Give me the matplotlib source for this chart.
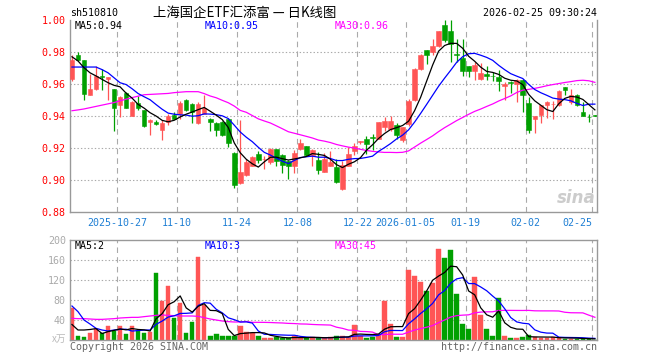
import matplotlib
matplotlib.use('Agg')
import matplotlib.pyplot as plt
import numpy as np
import pandas as pd

plt.rcParams['lines.scale_dashes'] = False
MONO = 'DejaVu Sans Mono'
CJK = ['Noto Sans CJK SC', 'DejaVu Sans']

# ---------------- data ----------------
opens = [0.9633, 0.9779, 0.9748, 0.9533, 0.9567, 0.9647, 0.9629, 0.9567, 0.9471, 0.9546,
         0.9402, 0.9480, 0.9436, 0.9360, 0.9364, 0.9310, 0.9360, 0.9408, 0.9414, 0.9502,
         0.9477, 0.9358, 0.9415, 0.9383, 0.9358, 0.9362, 0.9380, 0.9166, 0.8980, 0.9033,
         0.9090, 0.9164, 0.9131, 0.9110, 0.9194, 0.9158, 0.9120, 0.9089, 0.9194, 0.9212,
         0.9158, 0.9127, 0.9052, 0.9088, 0.9079, 0.8943, 0.9088, 0.9180, 0.9238, 0.9256,
         0.9266, 0.9258, 0.9330, 0.9320, 0.9345, 0.9248, 0.9348, 0.9498, 0.9694, 0.9812,
         0.9798, 0.9835, 0.9966, 0.9930, 0.9784, 0.9760, 0.9710, 0.9680, 0.9633, 0.9664,
         0.9652, 0.9646, 0.9585, 0.9615, 0.9600, 0.9627, 0.9482, 0.9380, 0.9404, 0.9467,
         0.9474, 0.9467, 0.9579, 0.9490, 0.9533, 0.9427, 0.9394, 0.9404]
highs = [0.9780, 0.9797, 0.9750, 0.9660, 0.9713, 0.9692, 0.9646, 0.9567, 0.9525, 0.9550,
         0.9492, 0.9527, 0.9440, 0.9380, 0.9377, 0.9373, 0.9415, 0.9427, 0.9492, 0.9505,
         0.9480, 0.9490, 0.9530, 0.9385, 0.9360, 0.9370, 0.9390, 0.9175, 0.9376, 0.9133,
         0.9152, 0.9180, 0.9150, 0.9200, 0.9196, 0.9160, 0.9122, 0.9190, 0.9256, 0.9215,
         0.9196, 0.9175, 0.9170, 0.9180, 0.9130, 0.9120, 0.9208, 0.9231, 0.9245, 0.9273,
         0.9290, 0.9362, 0.9394, 0.9402, 0.9356, 0.9333, 0.9505, 0.9698, 0.9785, 0.9815,
         0.9880, 0.9932, 0.9998, 1.0000, 0.9880, 0.9882, 0.9712, 0.9740, 0.9731, 0.9710,
         0.9677, 0.9685, 0.9613, 0.9617, 0.9631, 0.9632, 0.9520, 0.9400, 0.9468, 0.9496,
         0.9496, 0.9565, 0.9580, 0.9571, 0.9537, 0.9488, 0.9413, 0.9405]
lows = [0.9620, 0.9746, 0.9498, 0.9530, 0.9565, 0.9560, 0.9498, 0.9306, 0.9395, 0.9450,
        0.9400, 0.9440, 0.9330, 0.9280, 0.9345, 0.9252, 0.9344, 0.9380, 0.9381, 0.9430,
        0.9356, 0.9352, 0.9412, 0.9306, 0.9277, 0.9277, 0.9206, 0.8948, 0.8975, 0.9027,
        0.9085, 0.9106, 0.9068, 0.9103, 0.9085, 0.9045, 0.9006, 0.9044, 0.9190, 0.9148,
        0.9085, 0.9040, 0.9050, 0.9085, 0.8980, 0.8940, 0.9085, 0.9158, 0.9225, 0.9165,
        0.9185, 0.9255, 0.9304, 0.9304, 0.9256, 0.9240, 0.9340, 0.9495, 0.9685, 0.9725,
        0.9783, 0.9833, 0.9860, 0.9735, 0.9740, 0.9648, 0.9643, 0.9627, 0.9624, 0.9627,
        0.9619, 0.9558, 0.9502, 0.9544, 0.9490, 0.9423, 0.9292, 0.9293, 0.9356, 0.9388,
        0.9383, 0.9460, 0.9529, 0.9475, 0.9460, 0.9398, 0.9363, 0.9402]
closes = [0.9752, 0.9748, 0.9535, 0.9567, 0.9650, 0.9645, 0.9644, 0.9452, 0.9521, 0.9452,
          0.9490, 0.9448, 0.9335, 0.9377, 0.9348, 0.9356, 0.9402, 0.9383, 0.9481, 0.9435,
          0.9423, 0.9477, 0.9452, 0.9362, 0.9313, 0.9284, 0.9230, 0.8970, 0.9053, 0.9110,
          0.9144, 0.9127, 0.9134, 0.9194, 0.9116, 0.9095, 0.9085, 0.9167, 0.9231, 0.9158,
          0.9185, 0.9060, 0.9133, 0.9113, 0.8990, 0.9093, 0.9164, 0.9210, 0.9241, 0.9222,
          0.9263, 0.9360, 0.9366, 0.9366, 0.9280, 0.9331, 0.9494, 0.9694, 0.9783, 0.9784,
          0.9835, 0.9930, 0.9872, 0.9850, 0.9782, 0.9682, 0.9680, 0.9717, 0.9666, 0.9649,
          0.9650, 0.9617, 0.9598, 0.9604, 0.9627, 0.9534, 0.9310, 0.9398, 0.9467, 0.9488,
          0.9477, 0.9554, 0.9565, 0.9529, 0.9467, 0.9402, 0.9391, 0.9402]
volumes = [64.7, 8, 6.7, 13.3, 21.3, 14.7, 28, 18.7, 28, 12,
           28, 18.7, 14.7, 16.7, 134.7, 78.7, 108, 44.7, 74.7, 14.7,
           36.7, 166.7, 70, 8, 12, 8, 8, 8, 28, 16.7,
           13.3, 8, 4.7, 4.7, 5.3, 3.3, 3.3, 8, 4.7, 4.7,
           5.3, 3.3, 4.7, 5.3, 8, 8, 5.3, 30, 8, 4.7,
           6.7, 10, 78.7, 32, 6.7, 6.7, 140, 128, 116.7, 98,
           114.7, 182, 164, 180, 92, 32, 22, 126, 50, 22,
           8, 84, 8, 4.7, 4.7, 6, 10, 5.3, 4, 4,
           6, 4, 3, 3, 3, 2.5, 2, 1]

# moving-average values at the left edge (their windows start before the chart)
ma5_head = [0.9770, 0.9744, 0.9702, 0.9670]
ma10_head = [0.9706, 0.9706, 0.9706, 0.9706, 0.9706, 0.9690, 0.9670, 0.9639, 0.9608]
ma30_head = [0.9433, 0.9438, 0.9444, 0.9452, 0.9460, 0.9468, 0.9476, 0.9484, 0.9495, 0.9505,
             0.9515, 0.9524, 0.9533, 0.9535, 0.9537, 0.9539, 0.9541, 0.9546, 0.9549, 0.9552,
             0.9552, 0.9552, 0.9540, 0.9525, 0.9514, 0.9498, 0.9483, 0.9462, 0.9435]
vma5_head = [31, 20, 20, 21]
vma10_head = [68, 56.7, 40, 32, 23.3, 20, 18, 20, 21.3]
vma30_head = [43.3, 42.7, 42.7, 42, 41.3, 41.3, 42, 42.7, 44, 44.7,
              45.3, 45.3, 46.7, 48, 49.3, 50, 49.3, 48.7, 48, 48,
              48, 47.3, 44.7, 42, 40, 38, 36.7, 36, 36]

tick_idx = [8, 18, 28, 38, 48, 56, 66, 76, 87]
tick_labels = ['2025-10-27', '11-10', '11-24', '12-08', '12-22',
               '2026-01-05', '01-19', '02-02', '02-25']
price_ticks = [0.88, 0.90, 0.92, 0.94, 0.96, 0.98, 1.00]
vol_ticks = [40, 80, 120, 160, 200]


def moving_avg(vals, n, head):
    s = pd.Series(vals, dtype=float).rolling(n).mean().to_numpy()
    s[:len(head)] = head
    return s


o = np.array(opens); h = np.array(highs); l = np.array(lows); c = np.array(closes)
v = np.array(volumes, dtype=float)
x = np.arange(len(c))
ma5 = moving_avg(c, 5, ma5_head)
ma10 = moving_avg(c, 10, ma10_head)
ma30 = moving_avg(c, 30, ma30_head)
vma5 = moving_avg(v, 5, vma5_head)
vma10 = moving_avg(v, 10, vma10_head)
vma30 = moving_avg(v, 30, vma30_head)

UP = '#ff5555'
DOWN = '#00a000'
cols = np.where(c >= o, UP, DOWN)
GRID = '#aaaaaa'
FRAME = '#999999'
VDASH = (0, (4.0, 3.0))
HDOT = (0, (1, 1.5))

W, H = 660, 360
fig = plt.figure(figsize=(W / 100, H / 100), dpi=100)
fig.patch.set_facecolor('white')


def fx(px):
    return px / W


def fy(py):
    return 1 - py / H


ax = fig.add_axes([fx(70), fy(212), fx(597) - fx(70), fy(20) - fy(212)])
axv = fig.add_axes([fx(70), fy(340), fx(597) - fx(70), fy(240) - fy(340)])
XL = (-0.33, 87.35)

# ---------------- price panel ----------------
ax.set_xlim(*XL)
ax.set_ylim(0.88, 1.00)
for yv in price_ticks[1:-1]:
    ax.axhline(yv, color=GRID, lw=0.8, linestyle=HDOT, zorder=0)
for t in tick_idx:
    ax.axvline(t - 0.5, color=GRID, lw=0.8, linestyle=VDASH, zorder=0)

ax.vlines(x, l, h, colors=cols, linewidth=0.9, zorder=2)
body_h = np.maximum(np.abs(c - o), 0.0003)
ax.bar(x, body_h, bottom=np.minimum(o, c), width=0.76, color=cols,
       edgecolor=cols, linewidth=0.4, zorder=3)
ax.plot(x, ma30, color='#ff00ff', lw=0.9, zorder=4)
ax.plot(x, ma10, color='#0000ff', lw=0.9, zorder=5)
ax.plot(x, ma5, color='black', lw=0.9, zorder=6)

ax.spines['top'].set_visible(False)
for s in ['left', 'right', 'bottom']:
    ax.spines[s].set_color(FRAME)
    ax.spines[s].set_linewidth(1.0)
ax.set_yticks(price_ticks)
ax.set_yticklabels(['%.2f' % t for t in price_ticks], color='red', fontfamily=MONO, fontsize=7.2)
ax.set_xticks([t - 0.5 for t in tick_idx])
ax.set_xticklabels(tick_labels, color='#1e7fd4', fontfamily=MONO, fontsize=7.2)
ax.get_xticklabels()[-1].set_ha('right')
ax.tick_params(axis='both', length=0)
ax.tick_params(axis='y', pad=3)
ax.tick_params(axis='x', pad=4)

# ---------------- volume panel ----------------
axv.set_xlim(*XL)
axv.set_ylim(0, 200)
for yv in vol_ticks[:-1]:
    axv.axhline(yv, color=GRID, lw=0.8, linestyle=HDOT, zorder=0)
for t in tick_idx:
    axv.axvline(t - 0.5, color=GRID, lw=0.8, linestyle=VDASH, zorder=0)
axv.bar(x, v, width=0.76, color=cols, edgecolor=cols, linewidth=0.3, zorder=2)
axv.plot(x, vma30, color='#ff00ff', lw=0.9, zorder=4)
axv.plot(x, vma10, color='#0000ff', lw=0.9, zorder=5)
axv.plot(x, vma5, color='black', lw=0.9, zorder=6)
for s in ['left', 'right', 'bottom', 'top']:
    axv.spines[s].set_color(FRAME)
    axv.spines[s].set_linewidth(1.0)
axv.set_yticks(vol_ticks)
axv.set_yticklabels([str(t) for t in vol_ticks], color='#aaaaaa', fontfamily=MONO, fontsize=7.2)
axv.set_xticks([])
axv.tick_params(axis='both', length=0)
axv.tick_params(axis='y', pad=3)

# ---------------- texts ----------------
ty = fy(13)
fig.text(fx(70), ty, 'sh510810', ha='left', va='center', fontfamily=MONO, fontsize=7.2, color='black')
fig.text(fx(245), ty, '上海国企ETF汇添富 — 日K线图', ha='center', va='center',
         family=CJK, fontsize=9.6, color='black')
fig.text(fx(597), ty, '2026-02-25 09:30:24', ha='right', va='center', fontfamily=MONO,
         fontsize=7.2, color='black')

fig.text(fx(75), fy(26), 'MA5:%.2f' % ma5[-1], ha='left', va='center', fontfamily=MONO,
         fontsize=7.2, color='black')
fig.text(fx(205), fy(26), 'MA10:%.2f' % ma10[-1], ha='left', va='center', fontfamily=MONO,
         fontsize=7.2, color='#0000ff')
fig.text(fx(335), fy(26), 'MA30:%.2f' % ma30[-1], ha='left', va='center', fontfamily=MONO,
         fontsize=7.2, color='#ff00ff')

fig.text(fx(75), fy(246), 'MA5:%.0f' % vma5[-1], ha='left', va='center', fontfamily=MONO,
         fontsize=7.2, color='black')
fig.text(fx(205), fy(246), 'MA10:%.0f' % vma10[-1], ha='left', va='center', fontfamily=MONO,
         fontsize=7.2, color='#0000ff')
fig.text(fx(335), fy(246), 'MA30:%.0f' % vma30[-1], ha='left', va='center', fontfamily=MONO,
         fontsize=7.2, color='#ff00ff')

fig.text(fx(66), fy(339), 'x万', ha='right', va='center', family=CJK, fontsize=7, color='#bbbbbb')
fig.text(fx(70), fy(347), 'Copyright 2026 SINA.COM', ha='left', va='center', fontfamily=MONO,
         fontsize=7.2, color='#666666')
fig.text(fx(597), fy(347), 'http://finance.sina.com.cn', ha='right', va='center', fontfamily=MONO,
         fontsize=7.2, color='#666666')
fig.text(fx(596), fy(198), 'sina', ha='right', va='center', fontsize=12, fontweight='bold',
         style='italic', color='#cccccc', zorder=1)

fig.savefig('out.png', dpi=100, facecolor='white')
